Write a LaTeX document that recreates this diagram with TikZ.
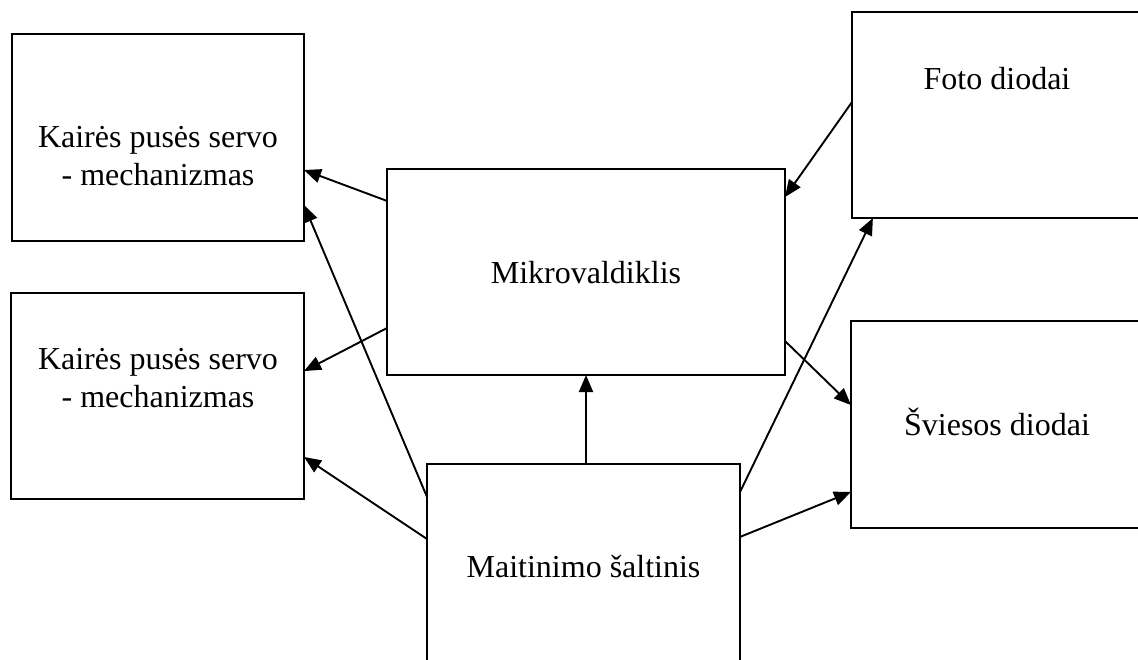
\documentclass[tikz,border=0pt]{standalone}
\usepackage{fontspec}
\setmainfont{Liberation Serif}
\usetikzlibrary{arrows.meta,calc}
\begin{document}
\begin{tikzpicture}[x=1pt,y=-1pt,
  box/.style={draw, line width=2.2pt, anchor=north west, inner sep=0pt, outer sep=0pt},
  lbl/.style={font=\fontsize{32}{37.5}\selectfont, align=center, inner sep=0pt},
  conn/.style={line width=1.9pt, -{Triangle[length=17pt,width=14pt]}}]
\path[use as bounding box] (0,0) rectangle (1138,659);
\clip (0,0) rectangle (1138,659);

% blocks
\node[box, minimum width=292pt, minimum height=207pt] (lt)   at (12,34)  {};
\node[box, minimum width=293pt, minimum height=206pt] (lb)   at (11,293) {};
\node[box, minimum width=398pt, minimum height=206pt] (mcu)  at (387,169) {};
\node[box, minimum width=313pt, minimum height=206pt] (pwr)  at (427,464) {};
\node[box, minimum width=290pt, minimum height=206pt] (foto) at (852,12) {};
\node[box, minimum width=292pt, minimum height=207pt] (led)  at (851,321) {};

% labels
\node[lbl] (ltT)   at (158,156) {Kairės pusės servo\\- mechanizmas};
\node[lbl] (lbT)   at (158,378) {Kairės pusės servo\\- mechanizmas};
\node[lbl, anchor=base] (mcuT)  at (586,283) {Mikrovaldiklis};
\node[lbl, anchor=base] (pwrT)  at (583.5,577) {Maitinimo šaltinis};
\node[lbl, anchor=base] (fotoT) at (997,89) {Foto diodai};
\node[lbl, anchor=base] (ledT)  at (997,435) {Šviesos diodai};

% connections
\draw[conn] ($(mcu.north west)!0.155!(mcu.south west)$) -- ($(lt.north east)!0.657!(lt.south east)$);
\draw[conn] ($(pwr.north west)!0.16!(pwr.south west)$) -- ($(lt.north east)!0.826!(lt.south east)$);
\draw[conn] ($(mcu.north west)!0.772!(mcu.south west)$) -- ($(lb.north east)!0.379!(lb.south east)$);
\draw[conn] ($(pwr.north west)!0.364!(pwr.south west)$) -- ($(lb.north east)!0.796!(lb.south east)$);
\draw[conn] (pwr.north -| mcu.south) -- (mcu.south);
\draw[conn] ($(foto.north west)!0.437!(foto.south west)$) -- ($(mcu.north east)!0.136!(mcu.south east)$);
\draw[conn] ($(pwr.north east)!0.136!(pwr.south east)$) -- ($(foto.south west)!0.072!(foto.south east)$);
\draw[conn] ($(mcu.north east)!0.835!(mcu.south east)$) -- ($(led.north west)!0.406!(led.south west)$);
\draw[conn] ($(pwr.north east)!0.354!(pwr.south east)$) -- ($(led.north west)!0.826!(led.south west)$);
\end{tikzpicture}
\end{document}
